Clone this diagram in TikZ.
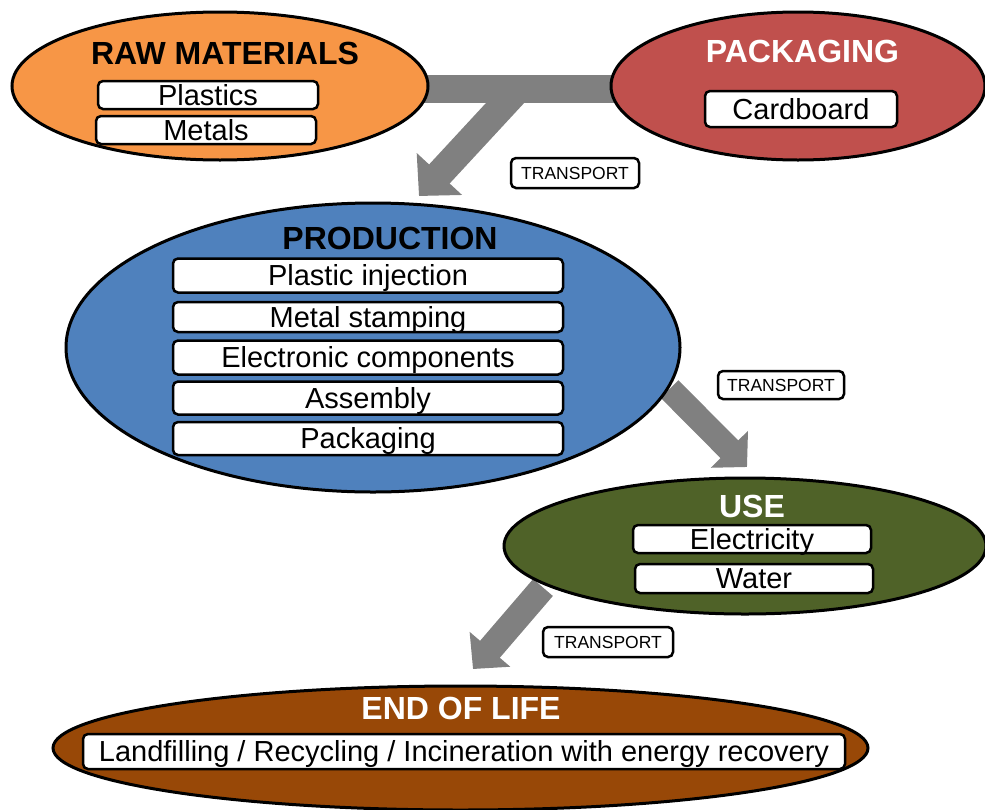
\documentclass[tikz,border=0pt]{standalone}
\usepackage{fontspec}
\setmainfont{Liberation Sans}
\usetikzlibrary{arrows.meta,shapes.geometric}
\definecolor{rawc}{HTML}{F79646}
\definecolor{packc}{HTML}{C0504D}
\definecolor{prodc}{HTML}{4F81BD}
\definecolor{usec}{HTML}{4F6228}
\definecolor{eolc}{HTML}{984807}
\definecolor{arrowc}{HTML}{808080}
\begin{document}
\begin{tikzpicture}[x=1pt,y=-1pt,
  stage/.style={ellipse, draw=black, line width=3pt, inner sep=0pt},
  item/.style={draw=black, fill=white, line width=2.5pt, rounded corners=5pt, inner sep=0pt,
    text height=20.5pt, text depth=0pt, font=\fontsize{29}{31}\selectfont},
  stagetitle/.style={font=\fontsize{32}{34}\selectfont\bfseries, anchor=base, inner sep=0pt},
  tlabel/.style={draw=black, fill=white, line width=2.5pt, rounded corners=5pt, inner sep=0pt,
    text height=13pt, text depth=0pt, font=\fontsize{17.5}{19}\selectfont},
  flowbar/.style={draw=arrowc, line width=28pt},
  flowarrow/.style={draw=arrowc, line width=#1},
]
\useasboundingbox (0,0) rectangle (985,809);

% connectors (block arrows)
\coordinate (barL) at (415,89);
\coordinate (barR) at (625,89);
\coordinate (a1s) at (518,89);
\coordinate (a1e) at (419,196);
\coordinate (a2s) at (669.5,389);
\coordinate (a2e) at (747,467);
\coordinate (a3s) at (543,587.5);
\coordinate (a3e) at (473,669);
\draw[flowbar] (barL) -- (barR);
\draw[flowarrow=28pt, -{Triangle[length=30pt,width=60pt]}] (a1s) -- (a1e);
\draw[flowarrow=25pt, -{Triangle[length=25pt,width=51pt]}] (a2s) -- (a2e);
\draw[flowarrow=26pt, -{Triangle[length=26pt,width=52pt]}] (a3s) -- (a3e);

% stages
\node[stage, fill=rawc, minimum width=416pt, minimum height=148pt] (raw) at (220,86) {};
\node[stage, fill=packc, minimum width=374pt, minimum height=148pt] (pack) at (798,86) {};
\node[stage, fill=prodc, minimum width=614pt, minimum height=289pt] (prod) at (373,347.5) {};
\node[stage, fill=usec, minimum width=482pt, minimum height=136pt] (use) at (745,546) {};
\node[stage, fill=eolc, minimum width=815pt, minimum height=124pt] (eol) at (460.5,748) {};

% titles
\node[stagetitle, text=black] (rawt) at (225,64) {RAW MATERIALS};
\node[stagetitle, text=white] (packt) at (802.5,62) {PACKAGING};
\node[stagetitle, text=black] (prodt) at (390,249) {PRODUCTION};
\node[stagetitle, text=white] (uset) at (752,517) {USE};
\node[stagetitle, text=white] (eolt) at (461,719) {END OF LIFE};

% items
\node[item, minimum width=220pt, minimum height=28pt] (i1) at (208,95) {Plastics};
\node[item, minimum width=220pt, minimum height=28pt] (i2) at (206,130) {Metals};
\node[item, minimum width=192pt, minimum height=36pt] (i3) at (801,109) {Cardboard};
\node[item, minimum width=390pt, minimum height=34pt] (p1) at (368,275.5) {Plastic injection};
\node[item, minimum width=390pt, minimum height=30pt] (p2) at (368,317) {Metal stamping};
\node[item, minimum width=390pt, minimum height=34pt] (p3) at (368,357.5) {Electronic components};
\node[item, minimum width=390pt, minimum height=33pt] (p4) at (368,398) {Assembly};
\node[item, minimum width=390pt, minimum height=33pt] (p5) at (368,438.5) {Packaging};
\node[item, minimum width=238pt, minimum height=28pt] (u1) at (752,539) {Electricity};
\node[item, minimum width=238pt, minimum height=29pt] (u2) at (754,578.5) {Water};
\node[item, minimum width=762pt, minimum height=35pt] (e1) at (464,751.5) {Landfilling / Recycling / Incineration with energy recovery};

% transport labels
\node[tlabel, minimum width=128pt, minimum height=30pt] (t1) at (575,173) {TRANSPORT};
\node[tlabel, minimum width=126pt, minimum height=28pt] (t2) at (781,385) {TRANSPORT};
\node[tlabel, minimum width=130pt, minimum height=30pt] (t3) at (608,642) {TRANSPORT};
\end{tikzpicture}
\end{document}
